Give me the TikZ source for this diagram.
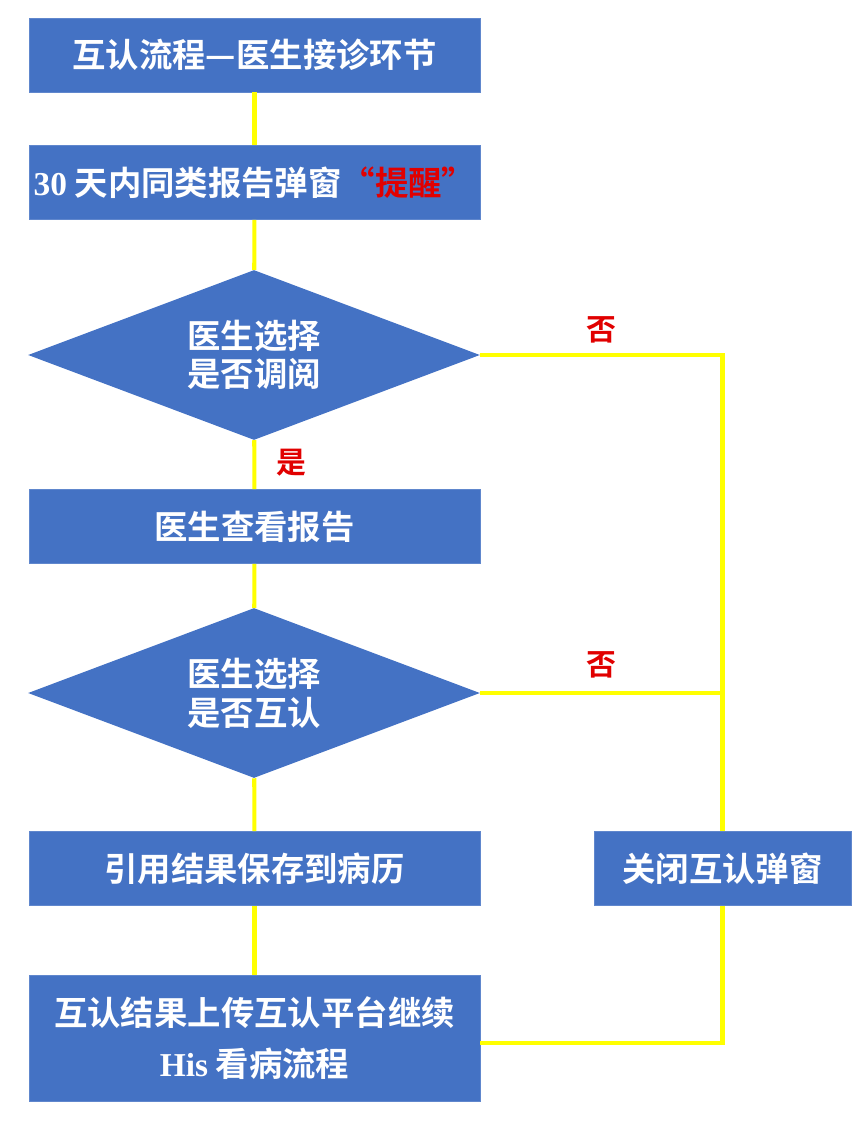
\documentclass[tikz,border=0pt]{standalone}
\usepackage{fontspec}
\usepackage{tikz}
\usetikzlibrary{shapes.geometric}
\newfontfamily\cjk{Noto Sans CJK SC}[BoldFont={Noto Sans CJK SC Bold}]
\newfontfamily\westfont{Liberation Serif}
\definecolor{boxblue}{RGB}{68,114,196}
\definecolor{linkyellow}{RGB}{255,255,0}
\definecolor{markred}{RGB}{225,0,0}

\begin{document}
\begin{tikzpicture}[x=0.02cm,y=0.02cm,
    stepbox/.style={rectangle,fill=boxblue,draw=boxblue!85!white,line width=.4pt,
      minimum width=9.02cm,minimum height=1.48cm,inner sep=0pt,align=center,
      text=white,font=\cjk\bfseries\fontsize{19}{23}\selectfont},
    choice/.style={diamond,aspect=2.66,fill=boxblue,minimum width=9.04cm,
      minimum height=3.4cm,inner sep=0pt,align=center,
      text=white,font=\cjk\bfseries\fontsize{19}{22}\selectfont},
    link/.style={draw=linkyellow,line width=2.3pt},
    answer/.style={text=markred,font=\cjk\bfseries\fontsize{17}{20}\selectfont}]
    \useasboundingbox (0,0) rectangle (859,-1125);

    % Main column of steps and decisions.
    \node[stepbox] (title) at (254.5,-55) {互认流程—医生接诊环节};
    \node[stepbox] (remind) at (254.5,-182.5)
      {{\westfont 30} 天内同类报告弹窗{\color{markred}“提醒”}};
    \node[choice] (lookup) at (254,-355) {医生选择\\是否调阅};
    \node[stepbox] (review) at (254.5,-526.5) {医生查看报告};
    \node[choice] (accept) at (254,-693) {医生选择\\是否互认};
    \node[stepbox] (save) at (254.5,-868.5) {引用结果保存到病历};
    \node[stepbox,minimum height=2.52cm] (upload) at (254.5,-1038)
      {互认结果上传互认平台继续\\[6pt]{\westfont His} 看病流程};

    % Side branch for a refused popup.
    \node[stepbox,minimum width=5.14cm] (close) at (722.5,-868.5) {关闭互认弹窗};

    % Yellow connectors.
    \draw[link] (title) -- (remind);
    \draw[link] (remind) -- (lookup);
    \draw[link] (lookup) -- (review);
    \draw[link] (review) -- (accept);
    \draw[link] (accept) -- (save);
    \draw[link] (save) -- (upload);
    \draw[link] (lookup.east) -| (close.north);
    \draw[link] (accept.east) -- (accept.east -| close.north);
    \draw[link] (close.south) |- ([yshift=-0.1cm]upload.east);

    % Answers on the branches.
    \node[answer] (nolookup) at (601,-330) {否};
    \node[answer] (yeslookup) at (291,-463) {是};
    \node[answer] (noaccept) at (601,-665) {否};
  \end{tikzpicture}
\end{document}
